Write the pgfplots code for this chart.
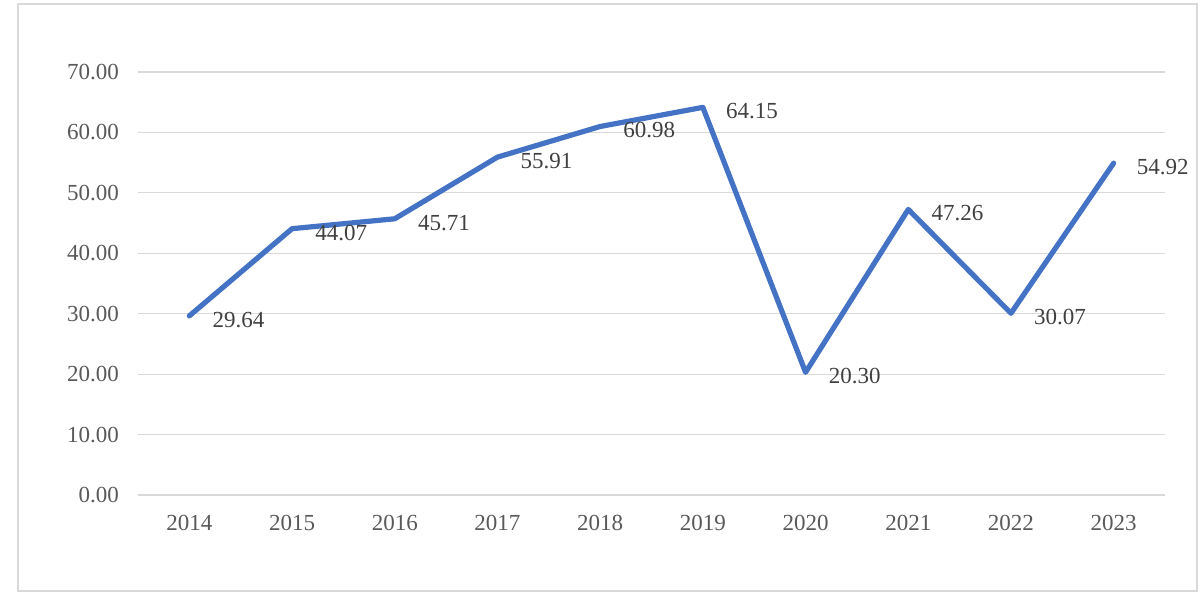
\documentclass[border=0pt]{standalone}
\usepackage{pgfplots}
\pgfplotsset{compat=1.18}
\usepackage{fontspec}
\setmainfont{Liberation Serif}
\definecolor{exblue}{HTML}{4472C4}
\definecolor{gridgray}{HTML}{D9D9D9}
\definecolor{ticktxt}{HTML}{595959}
\definecolor{lbltxt}{HTML}{404040}
\begin{document}
\begin{tikzpicture}
\useasboundingbox (0,0) rectangle (600pt,299pt);
\draw[color=gridgray, line width=0.6pt] (9pt,3.5pt) rectangle (598.5pt,297pt);
\begin{axis}[
  at={(69pt,51.5pt)}, anchor=south west,
  scale only axis, width=513.5pt, height=211.5pt,
  xmin=-0.5, xmax=9.5, ymin=0, ymax=70,
  xtick={0,...,9},
  xticklabels={2014,2015,2016,2017,2018,2019,2020,2021,2022,2023},
  ytick={0,10,...,70},
  yticklabel style={/pgf/number format/fixed, /pgf/number format/fixed zerofill, /pgf/number format/precision=2, xshift=-6pt},
  /pgf/number format/assume math mode=true,
  ymajorgrids, grid style={color=gridgray, line width=0.6pt},
  axis line style={draw=none},
  major tick length=0pt,
  tick label style={color=ticktxt, font=\fontsize{11.5}{13}\selectfont},
  xticklabel style={yshift=-6.5pt},
  clip=false,
]
\addplot[color=exblue, line width=2.6pt, line cap=round, line join=round,
  nodes near coords={\pgfmathprintnumber[fixed, fixed zerofill, precision=2, assume math mode=true]{\pgfplotspointmeta}},
  point meta=y,
  every node near coord/.style={anchor=west, xshift=7pt, yshift=-2pt, color=lbltxt, font=\fontsize{11.5}{13}\selectfont}
] coordinates {
  (0,29.64) (1,44.07) (2,45.71) (3,55.91) (4,60.98)
  (5,64.15) (6,20.30) (7,47.26) (8,30.07) (9,54.92)
};
\end{axis}
\end{tikzpicture}
\end{document}
